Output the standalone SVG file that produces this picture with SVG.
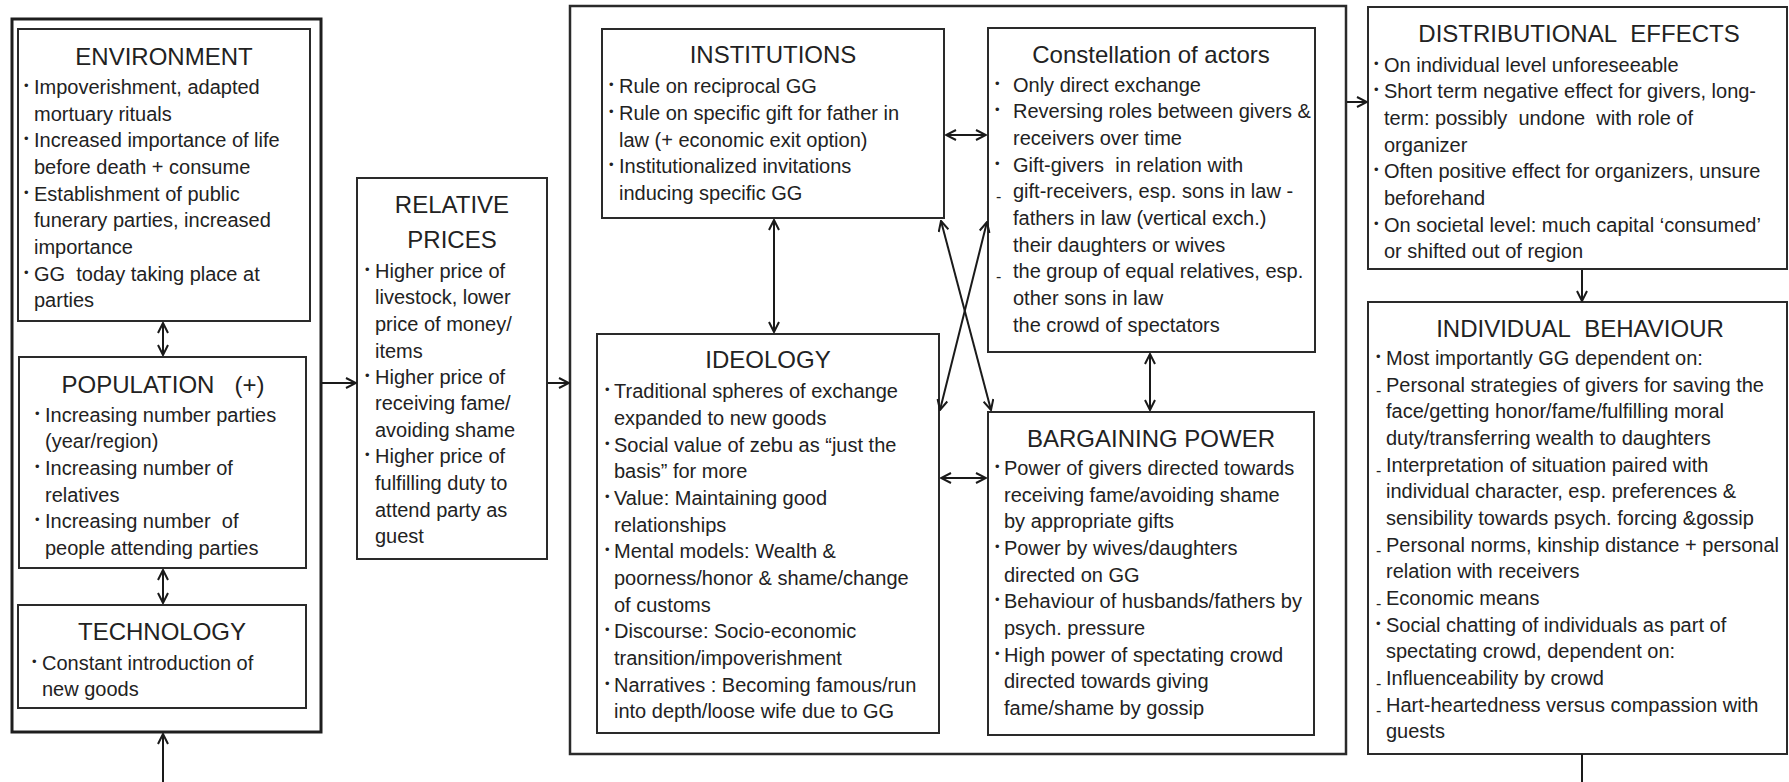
<svg xmlns="http://www.w3.org/2000/svg" width="1789" height="782" viewBox="0 0 1789 782">
<style>
.box{fill:#fff;stroke:#2a2a2a;stroke-width:2}
.outer{fill:none;stroke:#1e1e1e;stroke-width:3}
.mid{fill:none;stroke:#2a2a2a;stroke-width:2.5}
text{font-family:"Liberation Sans",Arial,sans-serif;fill:#222}
.t{font-size:20px}
.h{font-size:24px;text-anchor:middle}
.b{font-size:13px}
.d{font-size:16px}
.c{stroke:#1a1a1a;stroke-width:2;fill:none}
</style>
<defs>
<marker id="ah" viewBox="0 0 12 12" refX="11" refY="6" markerWidth="12" markerHeight="12" markerUnits="userSpaceOnUse" orient="auto-start-reverse">
<path d="M1,1 L11,6 L1,11" fill="none" stroke="#1a1a1a" stroke-width="2"/>
</marker>
</defs>
<rect width="1789" height="782" fill="#fff"/>

<rect class="outer" x="12" y="19" width="309" height="713"/>
<rect class="mid" x="570" y="6" width="776" height="748"/>

<g id="environment">
<rect class="box" x="18" y="29" width="292" height="292"/>
<text class="h" x="164" y="65">ENVIRONMENT</text>
<text class="b" x="24" y="90">•</text><text class="b" x="24" y="143">•</text><text class="b" x="24" y="197">•</text><text class="b" x="24" y="277">•</text>
<text class="t">
<tspan x="34" y="94">Impoverishment, adapted</tspan>
<tspan x="34" y="121">mortuary rituals</tspan>
<tspan x="34" y="147">Increased importance of life</tspan>
<tspan x="34" y="174">before death + consume</tspan>
<tspan x="34" y="201">Establishment of public</tspan>
<tspan x="34" y="227">funerary parties, increased</tspan>
<tspan x="34" y="254">importance</tspan>
<tspan x="34" y="281">GG&#160; today taking place at</tspan>
<tspan x="34" y="307">parties</tspan>
</text>
</g>

<g id="population">
<rect class="box" x="19" y="357" width="287" height="211"/>
<text class="h" x="163" y="393">POPULATION&#160;&#160; (+)</text>
<text class="b" x="35" y="418">•</text><text class="b" x="35" y="471">•</text><text class="b" x="35" y="524">•</text>
<text class="t">
<tspan x="45" y="422">Increasing number parties</tspan>
<tspan x="45" y="448">(year/region)</tspan>
<tspan x="45" y="475">Increasing number of</tspan>
<tspan x="45" y="502">relatives</tspan>
<tspan x="45" y="528">Increasing number&#160; of</tspan>
<tspan x="45" y="555">people attending parties</tspan>
</text>
</g>

<g id="technology">
<rect class="box" x="18" y="605" width="288" height="103"/>
<text class="h" x="162" y="640">TECHNOLOGY</text>
<text class="b" x="32" y="666">•</text>
<text class="t">
<tspan x="42" y="670">Constant introduction of</tspan>
<tspan x="42" y="696">new goods</tspan>
</text>
</g>

<g id="relative-prices">
<rect class="box" x="357" y="178" width="190" height="381"/>
<text class="h" x="452" y="213">RELATIVE</text>
<text class="h" x="452" y="248">PRICES</text>
<text class="b" x="365" y="274">•</text><text class="b" x="365" y="380">•</text><text class="b" x="365" y="459">•</text>
<text class="t">
<tspan x="375" y="278">Higher price of</tspan>
<tspan x="375" y="304">livestock, lower</tspan>
<tspan x="375" y="331">price of money/</tspan>
<tspan x="375" y="358">items</tspan>
<tspan x="375" y="384">Higher price of</tspan>
<tspan x="375" y="410">receiving fame/</tspan>
<tspan x="375" y="437">avoiding shame</tspan>
<tspan x="375" y="463">Higher price of</tspan>
<tspan x="375" y="490">fulfilling duty to</tspan>
<tspan x="375" y="517">attend party as</tspan>
<tspan x="375" y="543">guest</tspan>
</text>
</g>

<g id="institutions">
<rect class="box" x="602" y="29" width="342" height="189"/>
<text class="h" x="773" y="63">INSTITUTIONS</text>
<text class="b" x="609" y="89">•</text><text class="b" x="609" y="116">•</text><text class="b" x="609" y="169">•</text>
<text class="t">
<tspan x="619" y="93">Rule on reciprocal GG</tspan>
<tspan x="619" y="120">Rule on specific gift for father in</tspan>
<tspan x="619" y="147">law (+ economic exit option)</tspan>
<tspan x="619" y="173">Institutionalized invitations</tspan>
<tspan x="619" y="200">inducing specific GG</tspan>
</text>
</g>

<g id="constellation">
<rect class="box" x="988" y="28" width="327" height="324"/>
<text class="h" x="1151" y="63">Constellation of actors</text>
<text class="b" x="995" y="88">•</text><text class="b" x="995" y="114">•</text><text class="b" x="995" y="168">•</text>
<text class="d" x="996" y="202">-</text><text class="d" x="996" y="282">-</text>
<text class="t">
<tspan x="1013" y="92">Only direct exchange</tspan>
<tspan x="1013" y="118">Reversing roles between givers &amp;</tspan>
<tspan x="1013" y="145">receivers over time</tspan>
<tspan x="1013" y="172">Gift-givers&#160; in relation with</tspan>
<tspan x="1013" y="198">gift-receivers, esp. sons in law -</tspan>
<tspan x="1013" y="225">fathers in law (vertical exch.)</tspan>
<tspan x="1013" y="252">their daughters or wives</tspan>
<tspan x="1013" y="278">the group of equal relatives, esp.</tspan>
<tspan x="1013" y="305">other sons in law</tspan>
<tspan x="1013" y="332">the crowd of spectators</tspan>
</text>
</g>

<g id="ideology">
<rect class="box" x="597" y="334" width="342" height="399"/>
<text class="h" x="768" y="368">IDEOLOGY</text>
<text class="b" x="605" y="394">•</text><text class="b" x="605" y="448">•</text><text class="b" x="605" y="501">•</text><text class="b" x="605" y="554">•</text><text class="b" x="605" y="634">•</text><text class="b" x="605" y="688">•</text>
<text class="t">
<tspan x="614" y="398">Traditional spheres of exchange</tspan>
<tspan x="614" y="425">expanded to new goods</tspan>
<tspan x="614" y="452">Social value of zebu as “just the</tspan>
<tspan x="614" y="478">basis” for more</tspan>
<tspan x="614" y="505">Value: Maintaining good</tspan>
<tspan x="614" y="532">relationships</tspan>
<tspan x="614" y="558">Mental models: Wealth &amp;</tspan>
<tspan x="614" y="585">poorness/honor &amp; shame/change</tspan>
<tspan x="614" y="612">of customs</tspan>
<tspan x="614" y="638">Discourse: Socio-economic</tspan>
<tspan x="614" y="665">transition/impoverishment</tspan>
<tspan x="614" y="692">Narratives : Becoming famous/run</tspan>
<tspan x="614" y="718">into depth/loose wife due to GG</tspan>
</text>
</g>

<g id="bargaining-power">
<rect class="box" x="988" y="412" width="326" height="323"/>
<text class="h" x="1151" y="447">BARGAINING POWER</text>
<text class="b" x="995" y="471">•</text><text class="b" x="995" y="551">•</text><text class="b" x="995" y="604">•</text><text class="b" x="995" y="658">•</text>
<text class="t">
<tspan x="1004" y="475">Power of givers directed towards</tspan>
<tspan x="1004" y="502">receiving fame/avoiding shame</tspan>
<tspan x="1004" y="528">by appropriate gifts</tspan>
<tspan x="1004" y="555">Power by wives/daughters</tspan>
<tspan x="1004" y="582">directed on GG</tspan>
<tspan x="1004" y="608">Behaviour of husbands/fathers by</tspan>
<tspan x="1004" y="635">psych. pressure</tspan>
<tspan x="1004" y="662">High power of spectating crowd</tspan>
<tspan x="1004" y="688">directed towards giving</tspan>
<tspan x="1004" y="715">fame/shame by gossip</tspan>
</text>
</g>

<g id="distributional-effects">
<rect class="box" x="1368" y="7" width="419" height="262"/>
<text class="h" x="1579" y="42">DISTRIBUTIONAL&#160; EFFECTS</text>
<text class="b" x="1374" y="68">•</text><text class="b" x="1374" y="94">•</text><text class="b" x="1374" y="174">•</text><text class="b" x="1374" y="228">•</text>
<text class="t">
<tspan x="1384" y="72">On individual level unforeseeable</tspan>
<tspan x="1384" y="98">Short term negative effect for givers, long-</tspan>
<tspan x="1384" y="125">term: possibly&#160; undone&#160; with role of</tspan>
<tspan x="1384" y="152">organizer</tspan>
<tspan x="1384" y="178">Often positive effect for organizers, unsure</tspan>
<tspan x="1384" y="205">beforehand</tspan>
<tspan x="1384" y="232">On societal level: much capital ‘consumed’</tspan>
<tspan x="1384" y="258">or shifted out of region</tspan>
</text>
</g>

<g id="individual-behaviour">
<rect class="box" x="1368" y="302" width="419" height="452"/>
<text class="h" x="1580" y="337">INDIVIDUAL&#160; BEHAVIOUR</text>
<text class="b" x="1376" y="361">•</text><text class="b" x="1376" y="628">•</text>
<text class="d" x="1376" y="396">-</text><text class="d" x="1376" y="476">-</text><text class="d" x="1376" y="556">-</text><text class="d" x="1376" y="609">-</text><text class="d" x="1376" y="689">-</text><text class="d" x="1376" y="716">-</text>
<text class="t">
<tspan x="1386" y="365">Most importantly GG dependent on:</tspan>
<tspan x="1386" y="392">Personal strategies of givers for saving the</tspan>
<tspan x="1386" y="418">face/getting honor/fame/fulfilling moral</tspan>
<tspan x="1386" y="445">duty/transferring wealth to daughters</tspan>
<tspan x="1386" y="472">Interpretation of situation paired with</tspan>
<tspan x="1386" y="498">individual character, esp. preferences &amp;</tspan>
<tspan x="1386" y="525">sensibility towards psych. forcing &amp;gossip</tspan>
<tspan x="1386" y="552">Personal norms, kinship distance + personal</tspan>
<tspan x="1386" y="578">relation with receivers</tspan>
<tspan x="1386" y="605">Economic means</tspan>
<tspan x="1386" y="632">Social chatting of individuals as part of</tspan>
<tspan x="1386" y="658">spectating crowd, dependent on:</tspan>
<tspan x="1386" y="685">Influenceability by crowd</tspan>
<tspan x="1386" y="712">Hart-heartedness versus compassion with</tspan>
<tspan x="1386" y="738">guests</tspan>
</text>
</g>

<g id="connectors">
<line class="c" x1="163" y1="323" x2="163" y2="355" marker-start="url(#ah)" marker-end="url(#ah)"/>
<line class="c" x1="163" y1="570" x2="163" y2="603" marker-start="url(#ah)" marker-end="url(#ah)"/>
<line class="c" x1="163" y1="782" x2="163" y2="734" marker-end="url(#ah)"/>
<line class="c" x1="322" y1="383" x2="356" y2="383" marker-end="url(#ah)"/>
<line class="c" x1="548" y1="383" x2="569" y2="383" marker-end="url(#ah)"/>
<line class="c" x1="946" y1="135" x2="986" y2="135" marker-start="url(#ah)" marker-end="url(#ah)"/>
<line class="c" x1="774" y1="220" x2="774" y2="332" marker-start="url(#ah)" marker-end="url(#ah)"/>
<line class="c" x1="941" y1="221" x2="991" y2="410" marker-start="url(#ah)" marker-end="url(#ah)"/>
<line class="c" x1="987" y1="222" x2="940" y2="410" marker-start="url(#ah)" marker-end="url(#ah)"/>
<line class="c" x1="941" y1="478" x2="986" y2="478" marker-start="url(#ah)" marker-end="url(#ah)"/>
<line class="c" x1="1150" y1="354" x2="1150" y2="410" marker-start="url(#ah)" marker-end="url(#ah)"/>
<line class="c" x1="1347" y1="102" x2="1367" y2="102" marker-end="url(#ah)"/>
<line class="c" x1="1582" y1="270" x2="1582" y2="301" marker-end="url(#ah)"/>
<line class="c" x1="1582" y1="754" x2="1582" y2="782"/>
</g>
</svg>
